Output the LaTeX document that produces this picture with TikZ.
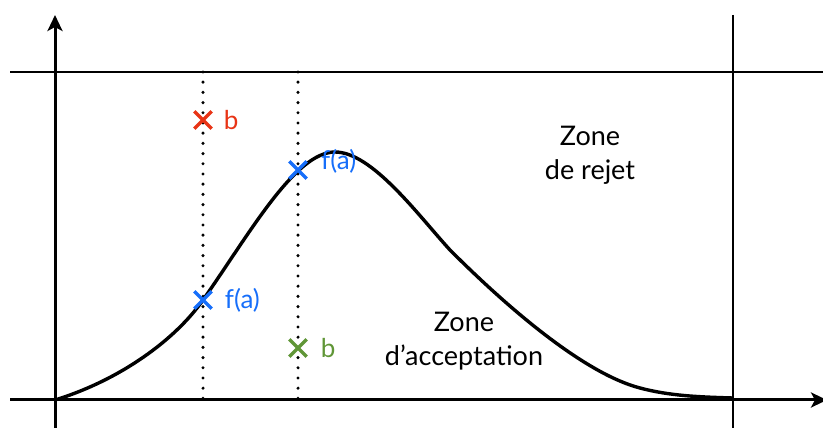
\documentclass[tikz,border=0pt]{standalone}
\usepackage{fontspec}
\setmainfont{Lato}
\usetikzlibrary{arrows.meta,positioning,shapes.misc}

\definecolor{rejred}{RGB}{232,52,22}
\definecolor{fblue}{RGB}{22,110,250}
\definecolor{accgreen}{RGB}{96,150,55}

\begin{document}
\begin{tikzpicture}[
  x=1pt, y=-1pt,
  axis/.style={line width=3pt, -{Stealth[length=16pt,width=15pt,inset=4pt]}},
  bound/.style={line width=2.6pt},
  guide/.style={line width=3.4pt, line cap=round, dash pattern=on 0pt off 10.2pt},
  curve/.style={line width=3.4pt, line join=round},
  xmark/.style={cross out, draw, line width=3.4pt, minimum size=14pt, inner sep=0pt},
  lbl/.style={inner sep=0pt, font=\fontsize{26}{30}\selectfont},
  zone/.style={align=center, inner sep=0pt, font=\fontsize{27}{34}\selectfont}
]
\useasboundingbox (0,0) rectangle (823,430);

% axes and the two boundaries
\coordinate (O) at (55,400);
\coordinate (ytop) at (55,15);
\coordinate (ybot) at (55,428);
\coordinate (xleft) at (10,400);
\coordinate (xright) at (827,400);
\coordinate (hleft) at (10,72);
\coordinate (hright) at (823,72);
\coordinate (vtop) at (733,15);
\coordinate (vbot) at (733,428);

\draw[axis] (ybot) -- (ytop);
\draw[axis] (xleft) -- (xright);
\draw[bound] (hleft) -- (hright);
\draw[bound] (vtop) -- (vbot);

% dotted guides
\coordinate (g1top) at (203,72);
\coordinate (g1bot) at (203,400);
\coordinate (g2top) at (298,72);
\coordinate (g2bot) at (298,400);
\draw[guide] (g1top) -- (g1bot);
\draw[guide] (g2top) -- (g2bot);

% density curve
\coordinate (peak) at (335,152);
\coordinate (bend) at (450,250);
\coordinate (tail) at (640,388);
\coordinate (end) at (733,398);
\draw[curve] (O) .. controls (120,380) and (175,340) .. (203,300)
  .. controls (250,233) and (295,152) .. (peak)
  .. controls (372,152) and (418,215) .. (bend)
  .. controls (520,320) and (590,375) .. (tail)
  .. controls (670,396) and (700,397) .. (end);

% crosses and their labels
\node[xmark, rejred] (rb) at (203,120) {};
\node[xmark, fblue] (fa1) at (203,300) {};
\node[xmark, fblue] (fa2) at (298,170) {};
\node[xmark, accgreen] (gb) at (298,348) {};

\node[lbl, rejred, right=12pt of rb] (rbl) {b};
\node[lbl, fblue, right=13pt of fa1] (fa1l) {f(a)};
\node[lbl, fblue, anchor=west] (fa2l) at ([xshift=23pt,yshift=9pt]fa2.center) {f(a)};
\node[lbl, accgreen, right=14pt of gb] (gbl) {b};

% zones
\node[zone] (rejet) at (590,155) {Zone\\de rejet};
\node[zone] (accept) at (464,341) {Zone\\d’acceptation};
\end{tikzpicture}
\end{document}
